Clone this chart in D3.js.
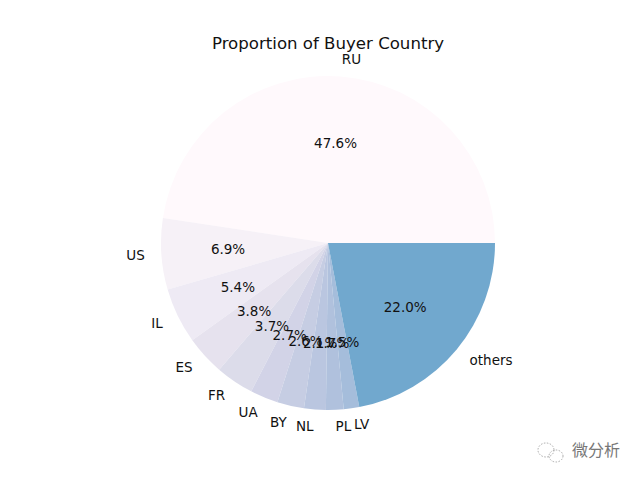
<!DOCTYPE html>
<html><head><meta charset="utf-8">
<style>html,body{margin:0;padding:0;background:#fff}svg{display:block}text{font-family:"DejaVu Sans",sans-serif;fill:#111}</style>
<script src="https://cdn.jsdelivr.net/npm/d3@7/dist/d3.min.js"></script>
</head><body><svg id="c" width="640" height="480"></svg>
<script>
const categories = ["RU","US","IL","ES","FR","UA","BY","NL","PL","LV","others"];
const shares = [47.6,6.9,5.4,3.8,3.7,2.7,2.6,2.1,1.7,1.5,22.0];
const palette = ["#fff9fc","#f6f1f7","#eeeaf4","#e6e2ee","#dcdcea","#d2d3e7","#c6cde3","#bac6e0","#b0c1dd","#a5bddb","#71a8ce"];
const title = "Proportion of Buyer Country";
const watermark = "微分析";

const svg = d3.select("#c");
const cx = 328, cy = 243, R = 167;
const g = svg.append("g").attr("transform",`translate(${cx},${cy})`);
const pie = d3.pie().sort(null).value(d=>d).startAngle(Math.PI/2).endAngle(Math.PI/2-2*Math.PI);
const arcs = pie(shares);
const arc = d3.arc().innerRadius(0).outerRadius(R);
const labelArc = d3.arc().innerRadius(R*1.1).outerRadius(R*1.1);
const pctArc = d3.arc().innerRadius(R*0.6).outerRadius(R*0.6);
const color = d3.scaleOrdinal(categories, palette);

g.selectAll("path").data(arcs).join("path")
  .attr("d",arc).attr("fill",(d,i)=>color(categories[i]));

g.selectAll("text.lab").data(arcs).join("text").attr("class","lab")
  .attr("x",d=>labelArc.centroid(d)[0]).attr("y",d=>labelArc.centroid(d)[1])
  .attr("dy","0.34em").attr("font-size",13.5)
  .attr("text-anchor",d=>labelArc.centroid(d)[0]>0?"start":"end")
  .text((d,i)=>categories[i]);

g.selectAll("text.pct").data(arcs).join("text").attr("class","pct")
  .attr("x",d=>pctArc.centroid(d)[0]).attr("y",d=>pctArc.centroid(d)[1])
  .attr("dy","0.36em").attr("font-size",13.5).attr("text-anchor","middle")
  .text(d=>d.value.toFixed(1)+"%");

svg.append("text").attr("x",328).attr("y",49).attr("text-anchor","middle")
  .attr("font-size",16.6).text(title);

// watermark
const wm = svg.append("g").attr("fill","none").attr("stroke","#a8a8a8").attr("stroke-dasharray","1.5 1.5");
wm.append("ellipse").attr("cx",546).attr("cy",450).attr("rx",8).attr("ry",7);
wm.append("ellipse").attr("cx",556).attr("cy",456).attr("rx",7).attr("ry",6);
svg.append("text").attr("x",572).attr("y",456).attr("font-size",16)
  .style("font-family",'"Noto Sans CJK SC"').style("fill","#777").text(watermark);
</script></body></html>
